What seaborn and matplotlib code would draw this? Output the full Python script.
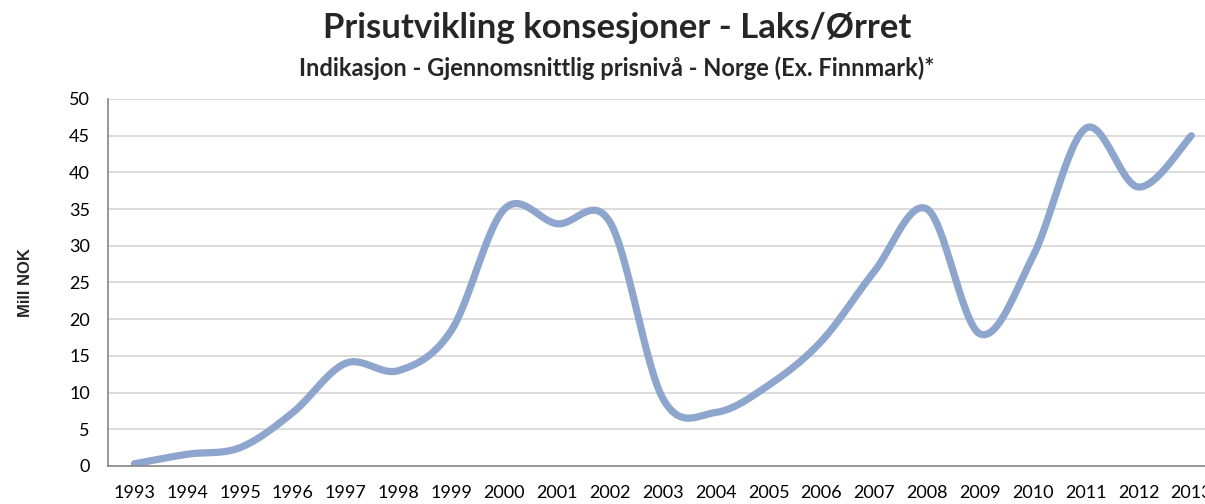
import numpy as np
import pandas as pd
import seaborn as sns
import matplotlib.pyplot as plt

# Data
years = [str(y) for y in range(1993, 2014)]
price = [0.3, 1.6, 2.5, 7.3, 14.0, 13.0, 18.5, 35.0, 33.0, 33.2,
         9.2, 7.3, 11.0, 17.0, 26.5, 35.0, 18.0, 28.5, 46.0, 38.0, 45.0]

title = "Prisutvikling konsesjoner - Laks/Ørret"
subtitle = "Indikasjon - Gjennomsnittlig prisnivå - Norge (Ex. Finnmark)*"
ylabel = "Mill NOK"


def smooth(x, y, n=30):
    # Catmull-Rom style smoothing, like Excel's "smoothed line"
    x = np.asarray(x, float)
    y = np.asarray(y, float)
    px = np.concatenate([[x[0]], x, [x[-1]]])
    py = np.concatenate([[y[0]], y, [y[-1]]])
    xs, ys = [], []
    t = np.linspace(0, 1, n, endpoint=False)
    for i in range(1, len(px) - 2):
        p0x, p1x, p2x, p3x = px[i - 1:i + 3]
        p0y, p1y, p2y, p3y = py[i - 1:i + 3]
        c1x, c1y = p1x + (p2x - p0x) / 6, p1y + (p2y - p0y) / 6
        c2x, c2y = p2x - (p3x - p1x) / 6, p2y - (p3y - p1y) / 6
        b = [(1 - t) ** 3, 3 * (1 - t) ** 2 * t, 3 * (1 - t) * t ** 2, t ** 3]
        xs.append(b[0] * p1x + b[1] * c1x + b[2] * c2x + b[3] * p2x)
        ys.append(b[0] * p1y + b[1] * c1y + b[2] * c2y + b[3] * p2y)
    xs.append([x[-1]])
    ys.append([y[-1]])
    return np.concatenate(xs), np.concatenate(ys)


sx, sy = smooth(range(len(years)), price)
df = pd.DataFrame({"pos": sx, "value": sy})

sns.set_style("white")
plt.rcParams["font.family"] = ["Lato", "DejaVu Sans"]

fig = plt.figure(figsize=(12.05, 5.04), dpi=100)
ax = fig.add_axes([0.0896, 0.0754, 0.921, 0.7282])

sns.lineplot(data=df, x="pos", y="value", ax=ax, color="#8EA6CD",
             linewidth=5.2, solid_capstyle="round", sort=False)

ax.set_xlim(-0.5, len(years) - 0.5)
ax.set_ylim(0, 50)
ax.set_yticks(range(0, 51, 5))
ax.yaxis.grid(True, color="#D9D9D9", linewidth=1.3)
ax.set_axisbelow(True)

ax.set_xticks(range(len(years)))
ax.set_xticklabels(years)
ax.set_xticks(np.arange(-0.5, len(years), 1), minor=True)
ax.tick_params(axis="x", which="major", length=0, pad=14, labelsize=13, labelcolor="black")
ax.tick_params(axis="x", which="minor", length=5, width=1, color="#868686", direction="out")
ax.tick_params(axis="y", length=6, width=1, color="#868686", labelsize=13,
               labelcolor="black", pad=7)

for side in ["top", "right"]:
    ax.spines[side].set_visible(False)
for side in ["left", "bottom"]:
    ax.spines[side].set_color("#868686")
    ax.spines[side].set_linewidth(1.2)

ax.set_xlabel("")
ax.set_ylabel("")
fig.text(0.021, 0.44, ylabel, rotation=90, ha="center", va="center",
         fontsize=12, fontweight="bold", family=["Liberation Sans", "DejaVu Sans"])

fig.text(0.512, 0.944, title, ha="center", va="center", fontsize=25, fontweight="bold")
fig.text(0.512, 0.865, subtitle, ha="center", va="center", fontsize=17, fontweight="bold")

fig.savefig("out.png", dpi=100)
